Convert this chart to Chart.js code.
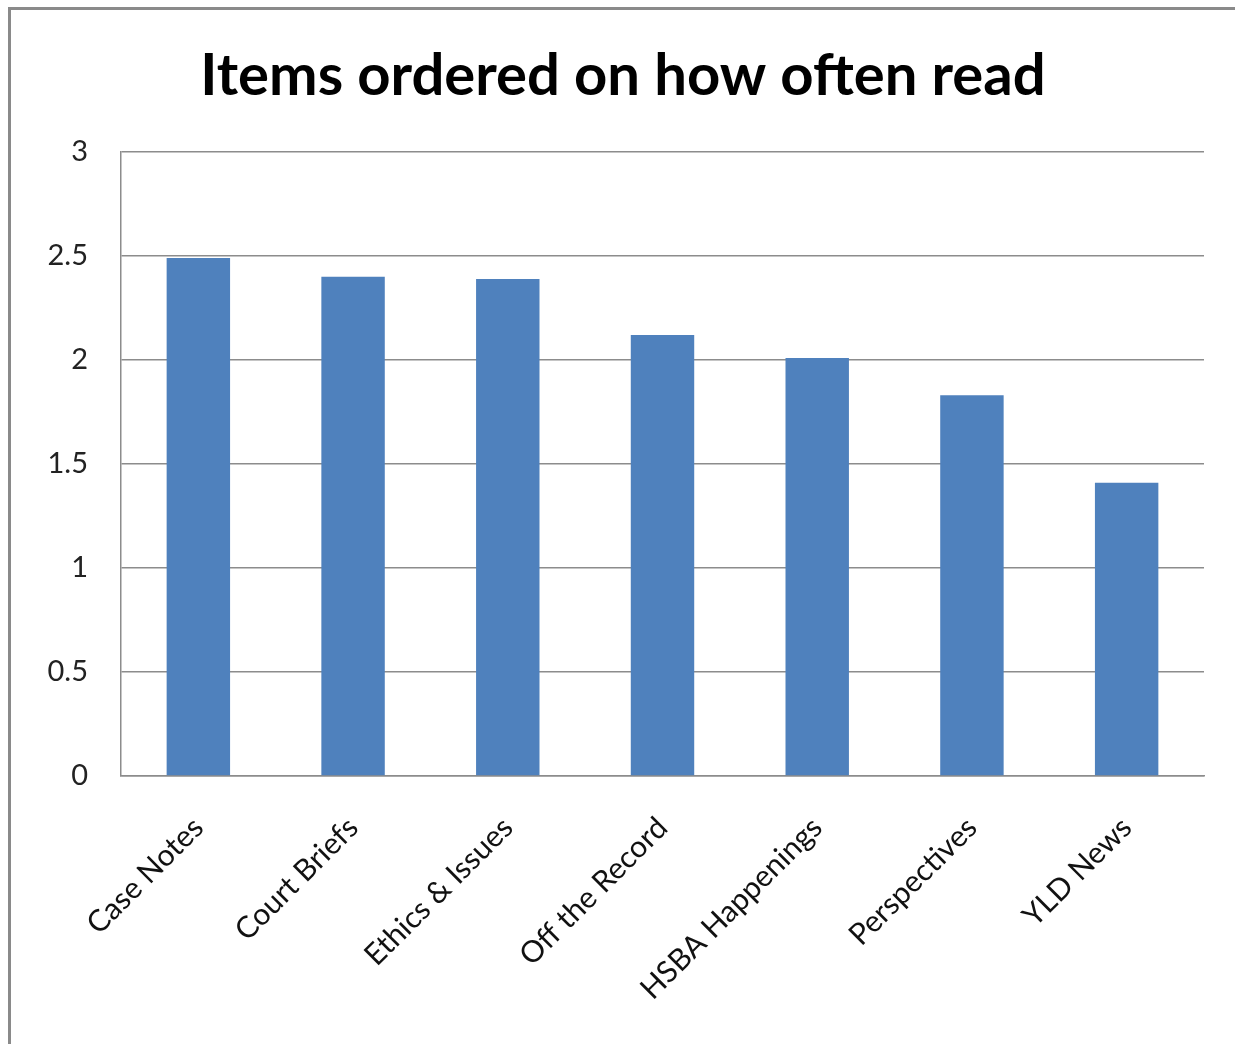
<!DOCTYPE html>
<html>
<head>
<meta charset="utf-8">
<title>Items ordered on how often read</title>
<script src="https://cdn.jsdelivr.net/npm/chart.js@4.4.1/dist/chart.umd.min.js"></script>
<style>
  html, body { margin: 0; padding: 0; background: #fff; }
  body { width: 1235px; height: 1044px; overflow: hidden; position: relative; }
  #frame {
    position: absolute; left: 8px; top: 7px; width: 1300px; height: 1100px;
    border-left: 3px solid #8a8a8a; border-top: 3px solid #8a8a8a;
  }
  #chart { position: absolute; left: 0; top: 0; }
</style>
</head>
<body>
<div id="frame"></div>
<canvas id="chart" width="1235" height="1044"></canvas>
<script>
// Chart data
const categories = ['Case Notes', 'Court Briefs', 'Ethics & Issues', 'Off the Record',
                    'HSBA Happenings', 'Perspectives', 'YLD News'];
const readScores = [2.49, 2.40, 2.39, 2.12, 2.01, 1.83, 1.41];
const yTicks = [0, 0.5, 1, 1.5, 2, 2.5, 3];

const FONT = 'Lato, "Open Sans", sans-serif';
const GRID = '#8c8c8c';

document.addEventListener('DOMContentLoaded', function() {
    initChart();
});

function initChart() {
    const ctx = document.getElementById('chart').getContext('2d');

    new Chart(ctx, {
        type: 'bar',
        data: {
            labels: categories,
            datasets: [{
                label: 'Items',
                data: readScores,
                backgroundColor: '#4f81bd',
                borderWidth: 0,
                categoryPercentage: 1,
                barPercentage: 0.41
            }]
        },
        options: {
            responsive: false,
            animation: false,
            devicePixelRatio: 1,
            layout: {
                // left padding shifts the title centre; y axis keeps plot left at 121
                padding: { left: 42, right: 31, top: 0, bottom: 0 }
            },
            plugins: {
                legend: { display: false },
                tooltip: { enabled: false },
                title: {
                    display: true,
                    text: 'Items ordered on how often read',
                    color: '#000',
                    font: { family: FONT, size: 58, weight: 'bold', lineHeight: 1.2 },
                    padding: { top: 41, bottom: 41.4 }
                }
            },
            scales: {
                x: {
                    grid: { display: false },
                    border: { display: true, color: GRID, width: 1.5 },
                    ticks: {
                        color: '#111',
                        font: { family: FONT, size: 30 },
                        minRotation: 45,
                        maxRotation: 45,
                        padding: 26
                    },
                    afterFit: function(scale) { scale.height = 268; }
                },
                y: {
                    min: 0,
                    max: 3,
                    afterBuildTicks: function(scale) {
                        scale.ticks = yTicks.map(v => ({ value: v }));
                    },
                    grid: { color: GRID, lineWidth: 1.5, drawTicks: false },
                    border: { display: true, color: GRID, width: 1.5 },
                    ticks: {
                        color: '#222',
                        font: { family: FONT, size: 29 },
                        padding: 33,
                        callback: v => String(v)
                    },
                    afterFit: function(scale) { scale.width = 79; }
                }
            }
        }
    });
}
</script>
</body>
</html>
